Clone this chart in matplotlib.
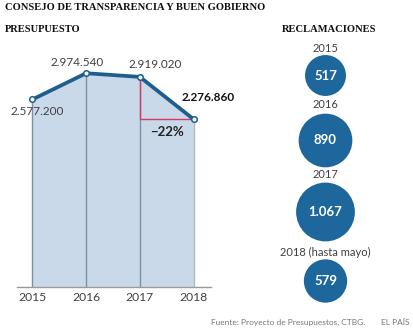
import numpy as np
import matplotlib.pyplot as plt
from matplotlib.patches import Circle

# Presupuesto (euros)
years = [2015, 2016, 2017, 2018]
budget = [2577200, 2974540, 2919020, 2276860]
budget_labels = ['2.577.200', '2.974.540', '2.919.020', '2.276.860']
change_label = '\u221222%'

# Reclamaciones
claim_years = ['2015', '2016', '2017', '2018 (hasta mayo)']
claims = [517, 890, 1067, 579]
claim_labels = ['517', '890', '1.067', '579']

line_col = '#1d5e8e'
fill_col = '#c9d9ea'
circ_col = '#1d679c'
red_col = '#d63c63'
grey_txt = '#404040'
sans = ['Lato', 'DejaVu Sans']
serif = ['Liberation Serif', 'DejaVu Serif']

W, H = 414, 331
fig = plt.figure(figsize=(W / 100, H / 100), dpi=100)
fig.patch.set_facecolor('white')

# gráfico de presupuesto
ax = fig.add_axes([16.7 / W, 1 - 287.3 / H, 194 / W, 247.3 / H])
y0 = -275000
ax.set_xlim(2014.706, 2018.32)
ax.set_ylim(y0, 3479000)
ax.fill_between(years, budget, y0, color=fill_col, lw=0, zorder=1)
for i, (x, v) in enumerate(zip(years, budget)):
    ax.vlines(x, y0, v, color='#7d90a6' if i < 3 else '#b0b8c2', lw=1, zorder=2)
ax.plot(years, budget, color=line_col, lw=2.7, zorder=4, solid_capstyle='round')
ax.plot(years, budget, 'o', ms=4, mfc='white', mec=line_col, mew=1.1, zorder=5)

# caída 2017-2018
ax.plot([years[2], years[2], years[3]], [budget[2], budget[3], budget[3]],
        color=red_col, lw=1, zorder=3)
ax.annotate(change_label, ((years[2] + years[3]) / 2, budget[3]),
            xytext=(0, -13), textcoords='offset pixels', ha='center', va='center',
            fontsize=9.5, fontweight='bold', color='#222222', family=sans)

offsets = [(5, -12), (-9, 11), (15, 12.5), (15, 22)]
for i, (x, v) in enumerate(zip(years, budget)):
    bold = i == 3
    ax.annotate(budget_labels[i], (x, v), xytext=offsets[i], textcoords='offset pixels',
                ha='center', va='center', fontsize=8.5,
                fontweight='bold' if bold else 'normal',
                color='#111111' if bold else grey_txt, family=sans)

for s in ['top', 'right', 'left']:
    ax.spines[s].set_visible(False)
ax.spines['bottom'].set_color('#9a9a9a')
ax.spines['bottom'].set_linewidth(1)
ax.set_yticks([])
ax.set_xticks(years)
ax.set_xticklabels([str(y) for y in years], fontsize=8.7, color=grey_txt, family=sans)
ax.tick_params(axis='x', length=0, pad=3.5)
ax.set_facecolor('none')

# capa para títulos y círculos (coordenadas en píxeles)
ov = fig.add_axes([0, 0, 1, 1])
ov.set_xlim(0, W)
ov.set_ylim(H, 0)
ov.axis('off')
ov.patch.set_alpha(0)

ov.text(5, 7.5, 'CONSEJO DE TRANSPARENCIA Y BUEN GOBIERNO', fontsize=7.6,
        fontweight='bold', family=serif, color='#111111', va='center', ha='left')
ov.text(5, 30, 'PRESUPUESTO', fontsize=7.6, fontweight='bold', family=serif,
        color='#111111', va='center', ha='left')
ov.text(329.5, 30, 'RECLAMACIONES', fontsize=7.6, fontweight='bold', family=serif,
        color='#111111', va='center', ha='center')

cx = 325.5
label_y = [49, 105, 175, 252.5]
center_y = [75.5, 140.5, 212, 281]
for lab, v, vl, ly, cy in zip(claim_years, claims, claim_labels, label_y, center_y):
    r = 0.9 * np.sqrt(v)
    ov.add_patch(Circle((cx, cy), r, color=circ_col, lw=0, zorder=3))
    ov.text(cx, ly, lab, fontsize=8, color=grey_txt, family=sans, ha='center', va='center')
    ov.text(cx, cy, vl, fontsize=9.5, fontweight='bold', color='white', family=sans,
            ha='center', va='center', zorder=4)

ov.text(365, 322.5, 'Fuente: Proyecto de Presupuestos, CTBG.', fontsize=6,
        color='#777777', family=sans, ha='right', va='center')
ov.text(410, 322.5, 'EL PAÍS', fontsize=6, color='#777777', family=sans,
        ha='right', va='center')

fig.savefig('out.png', dpi=100, facecolor='white')
